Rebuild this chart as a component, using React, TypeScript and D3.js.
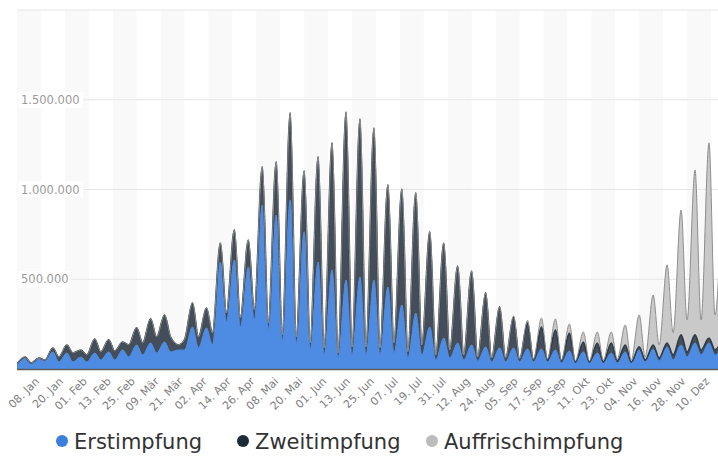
import * as d3 from "d3";

// Sunday low / Thursday high, two readings per week
const dates = [
  "2020-12-27", "2020-12-31", "2021-01-03", "2021-01-07", "2021-01-10", "2021-01-14",
  "2021-01-17", "2021-01-21", "2021-01-24", "2021-01-28", "2021-01-31", "2021-02-04",
  "2021-02-07", "2021-02-11", "2021-02-14", "2021-02-18", "2021-02-21", "2021-02-25",
  "2021-02-28", "2021-03-04", "2021-03-07", "2021-03-11", "2021-03-14", "2021-03-18",
  "2021-03-21", "2021-03-25", "2021-03-28", "2021-04-01", "2021-04-04", "2021-04-08",
  "2021-04-11", "2021-04-15", "2021-04-18", "2021-04-22", "2021-04-25", "2021-04-29",
  "2021-05-02", "2021-05-06", "2021-05-09", "2021-05-13", "2021-05-16", "2021-05-20",
  "2021-05-23", "2021-05-27", "2021-05-30", "2021-06-03", "2021-06-06", "2021-06-10",
  "2021-06-13", "2021-06-17", "2021-06-20", "2021-06-24", "2021-06-27", "2021-07-01",
  "2021-07-04", "2021-07-08", "2021-07-11", "2021-07-15", "2021-07-18", "2021-07-22",
  "2021-07-25", "2021-07-29", "2021-08-01", "2021-08-05", "2021-08-08", "2021-08-12",
  "2021-08-15", "2021-08-19", "2021-08-22", "2021-08-26", "2021-08-29", "2021-09-02",
  "2021-09-05", "2021-09-09", "2021-09-12", "2021-09-16", "2021-09-19", "2021-09-23",
  "2021-09-26", "2021-09-30", "2021-10-03", "2021-10-07", "2021-10-10", "2021-10-14",
  "2021-10-17", "2021-10-21", "2021-10-24", "2021-10-28", "2021-10-31", "2021-11-04",
  "2021-11-07", "2021-11-11", "2021-11-14", "2021-11-18", "2021-11-21", "2021-11-25",
  "2021-11-28", "2021-12-02", "2021-12-05", "2021-12-09", "2021-12-12", "2021-12-16",
];

const erstimpfung = [
  28000, 61000, 33000, 56000, 45000, 95000,
  39000, 89000, 39000, 67000, 39000, 89000,
  50000, 95000, 50000, 106000, 67000, 134000,
  78000, 145000, 89000, 150000, 95000, 106000,
  106000, 234000, 117000, 229000, 134000, 596000,
  262000, 607000, 234000, 568000, 273000, 914000,
  217000, 858000, 150000, 942000, 134000, 764000,
  106000, 596000, 78000, 552000, 61000, 496000,
  78000, 513000, 78000, 496000, 78000, 457000,
  89000, 357000, 61000, 312000, 78000, 234000,
  50000, 173000, 61000, 145000, 50000, 134000,
  45000, 123000, 39000, 117000, 39000, 117000,
  39000, 111000, 39000, 111000, 39000, 106000,
  33000, 100000, 33000, 95000, 33000, 89000,
  33000, 89000, 33000, 95000, 33000, 106000,
  39000, 111000, 45000, 123000, 50000, 134000,
  67000, 145000, 78000, 145000, 78000, 134000,
];

const zweitimpfung = [
  0, 6000, 0, 5000, 5000, 22000,
  28000, 45000, 50000, 39000, 39000, 78000,
  45000, 67000, 50000, 44000, 67000, 95000,
  67000, 134000, 89000, 151000, 83000, 28000,
  56000, 134000, 61000, 111000, 66000, 106000,
  50000, 168000, 50000, 151000, 56000, 212000,
  39000, 296000, 40000, 485000, 44000, 340000,
  39000, 586000, 39000, 708000, 28000, 936000,
  45000, 880000, 45000, 847000, 39000, 569000,
  56000, 646000, 34000, 669000, 56000, 530000,
  28000, 529000, 45000, 429000, 28000, 412000,
  22000, 301000, 22000, 229000, 22000, 173000,
  17000, 145000, 11000, 123000, 11000, 111000,
  12000, 100000, 6000, 55000, 6000, 56000,
  6000, 56000, 12000, 39000, 6000, 17000,
  11000, 23000, 16000, 22000, 28000, 56000,
  28000, 45000, 28000, 28000, 28000, 39000,
];

const auffrischimpfung = [
  0, 0, 0, 0, 0, 0,
  0, 0, 0, 0, 0, 0,
  0, 0, 0, 0, 0, 0,
  0, 0, 0, 0, 0, 0,
  0, 0, 0, 0, 0, 0,
  0, 0, 0, 0, 0, 0,
  0, 0, 0, 0, 0, 0,
  0, 0, 0, 0, 0, 0,
  0, 0, 0, 0, 0, 0,
  0, 0, 0, 0, 0, 0,
  0, 0, 0, 0, 0, 0,
  0, 0, 0, 0, 0, 5000,
  2000, 15000, 6000, 50000, 6000, 62000,
  5000, 51000, 6000, 56000, 6000, 61000,
  11000, 61000, 11000, 111000, 11000, 178000,
  17000, 278000, 73000, 435000, 123000, 696000,
  178000, 919000, 167000, 1087000, 195000, 992000,
];

const tickDates = [
  "2021-01-08", "2021-01-20", "2021-02-01", "2021-02-13", "2021-02-25", "2021-03-09",
  "2021-03-21", "2021-04-02", "2021-04-14", "2021-04-26", "2021-05-08", "2021-05-20",
  "2021-06-01", "2021-06-13", "2021-06-25", "2021-07-07", "2021-07-19", "2021-07-31",
  "2021-08-12", "2021-08-24", "2021-09-05", "2021-09-17", "2021-09-29", "2021-10-11",
  "2021-10-23", "2021-11-04", "2021-11-16", "2021-11-28", "2021-12-10",
];
const tickLabels = [
  "08. Jan", "20. Jan", "01. Feb", "13. Feb", "25. Feb", "09. Mär",
  "21. Mär", "02. Apr", "14. Apr", "26. Apr", "08. Mai", "20. Mai",
  "01. Jun", "13. Jun", "25. Jun", "07. Jul", "19. Jul", "31. Jul",
  "12. Aug", "24. Aug", "05. Sep", "17. Sep", "29. Sep", "11. Okt",
  "23. Okt", "04. Nov", "16. Nov", "28. Nov", "10. Dez",
];

const yTicks = [500000, 1000000, 1500000];

const seriesNames = ["Erstimpfung", "Zweitimpfung", "Auffrischimpfung"];
const fills = ["#4d8ce2", "#434e5a", "#c9c9c9"];
const strokes = ["#4a87dc", "#2e3a46", "#8e8e8e"];
const dotColors = ["#3b7fdc", "#1d2b39", "#bcbcbc"];

const W = 718;
const H = 461;
const FONT = "'DejaVu Sans', sans-serif";

const parse = d3.utcParse("%Y-%m-%d");
const de = d3.formatLocale({ decimal: ",", thousands: ".", grouping: [3], currency: ["", " €"] });
const fmt = de.format(",");

export default function App() {
  const plot = { left: 17, right: W, top: 10, bottom: 369 };

  const x = d3
    .scaleUtc()
    .domain([parse("2020-12-27")!, parse("2021-12-10")!])
    .range([17, 711]);
  const y = d3.scaleLinear().domain([0, 2000000]).range([plot.bottom, plot.top]);

  const rows = dates.map((d, i) => ({
    date: parse(d)!,
    erst: erstimpfung[i],
    zweit: zweitimpfung[i],
    auffr: auffrischimpfung[i],
  }));
  const stacked = d3.stack<any>().keys(["erst", "zweit", "auffr"])(rows);

  const area = d3
    .area<any>()
    .x((d) => x(d.data.date))
    .y0((d) => y(d[0]))
    .y1((d) => y(d[1]))
    .curve(d3.curveMonotoneX);
  const line = d3
    .line<any>()
    .x((d) => x(d.data.date))
    .y((d) => y(d[1]))
    .curve(d3.curveMonotoneX);

  const ticks = tickDates.map((t) => x(parse(t)!));
  // alternating bands: first from domain start to first tick, then every other interval
  const bands: [number, number][] = [[plot.left, ticks[0]]];
  for (let i = 1; i + 1 < ticks.length; i += 2) bands.push([ticks[i], ticks[i + 1]]);

  const legendX = [62, 243, 432];

  return (
    <svg
      width={W}
      height={H}
      style={{ position: "absolute", left: 0, top: 0, background: "#fff" }}
      fontFamily={FONT}
    >
      <defs>
        <clipPath id="plotClip">
          <rect x={plot.left} y={0} width={plot.right - plot.left} height={plot.bottom} />
        </clipPath>
      </defs>

      {bands.map(([a, b], i) => (
        <rect key={i} x={a} y={plot.top} width={b - a} height={plot.bottom - plot.top} fill="#f9f9f9" />
      ))}

      {/* grid */}
      {[...yTicks, 2000000].map((v) => (
        <line key={v} x1={plot.left} x2={plot.right} y1={y(v)} y2={y(v)} stroke="#e6e6e6" strokeWidth={1} />
      ))}

      <g clipPath="url(#plotClip)">
        {stacked.map((s, i) => (
          <path key={"a" + i} d={area(s) ?? ""} fill={fills[i]} />
        ))}
        {stacked.map((s, i) => (
          <path key={"l" + i} d={line(s) ?? ""} fill="none" stroke={strokes[i]} strokeWidth={i === 1 ? 1.6 : 1} />
        ))}
      </g>

      {/* y labels with white backing */}
      {yTicks.map((v) => {
        const label = fmt(v);
        const w = label.length * 6.8 + 4;
        return (
          <g key={v}>
            <rect x={plot.left + 1} y={y(v) - 8} width={w} height={16} fill="#fff" />
            <text x={21} y={y(v)} dy="0.35em" fontSize={11.5} fill="#9a9a9a">
              {label}
            </text>
          </g>
        );
      })}

      <line x1={plot.left} x2={plot.right} y1={plot.bottom + 0.5} y2={plot.bottom + 0.5} stroke="#5c5c5c" strokeWidth={1.5} />

      {/* x labels */}
      {tickLabels.map((t, i) => (
        <text
          key={t}
          transform={`translate(${ticks[i] - 1},${plot.bottom + 13}) rotate(-45)`}
          textAnchor="end"
          fontSize={11}
          fill="#808080"
        >
          {t}
        </text>
      ))}

      {/* legend */}
      {seriesNames.map((n, i) => (
        <g key={n} transform={`translate(${legendX[i]},441)`}>
          <circle r={6} fill={dotColors[i]} />
          <text x={12} dy="0.36em" fontSize={21} fill="#333">
            {n}
          </text>
        </g>
      ))}
    </svg>
  );
}
